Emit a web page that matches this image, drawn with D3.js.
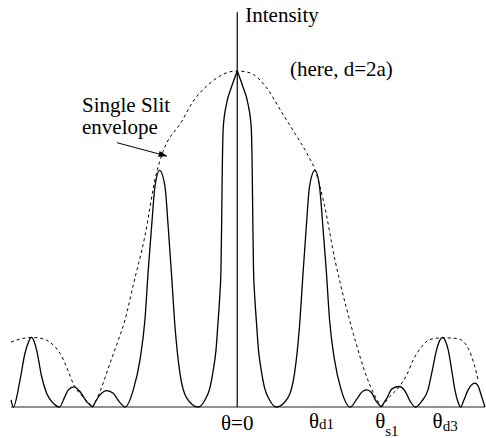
<!DOCTYPE html>
<meta charset="utf-8">
<script src="https://cdn.jsdelivr.net/npm/d3@7"></script>
<style>
  body { margin: 0; background: #fff; }
</style>
<div id="vis"></div>
<script>
// double slit pattern, theta in units of the first single-slit zero
const theta = [-1.556, -1.540, -1.494, -1.460, -1.436, -1.415, -1.395, -1.380, -1.345, -1.311,
  -1.265, -1.224, -1.185, -1.162, -1.123, -1.082, -1.036, -0.994, -0.944, -0.898,
  -0.853, -0.812, -0.772, -0.715, -0.669, -0.635, -0.612, -0.589, -0.566, -0.534,
  -0.497, -0.475, -0.451, -0.428, -0.394, -0.348, -0.270, -0.222, -0.188, -0.165,
  -0.146, -0.131, -0.120, -0.112, -0.107, -0.103, -0.096, -0.073, -0.039, 0,
  0.039, 0.073, 0.096, 0.103, 0.107, 0.112, 0.120, 0.131, 0.146, 0.165,
  0.188, 0.222, 0.270, 0.348, 0.394, 0.428, 0.451, 0.475, 0.497, 0.534,
  0.566, 0.589, 0.612, 0.635, 0.669, 0.715, 0.777, 0.823, 0.858, 0.890,
  0.923, 0.954, 0.990, 1.030, 1.064, 1.114, 1.153, 1.188, 1.226, 1.270,
  1.312, 1.339, 1.371, 1.394, 1.413, 1.432, 1.451, 1.477, 1.497, 1.518,
  1.536, 1.559, 1.588, 1.610, 1.635, 1.659, 1.681, 1.704];
const intensity = [0.021, 0, 0.080, 0.160, 0.193, 0.207, 0.193, 0.170, 0.090, 0.041,
  0.011, 0, 0.031, 0.051, 0.060, 0.046, 0.016, 0, 0.036, 0.049,
  0.041, 0.016, 0, 0.051, 0.140, 0.259, 0.408, 0.537, 0.656, 0.704,
  0.656, 0.537, 0.388, 0.239, 0.100, 0.027, 0, 0.021, 0.057, 0.110,
  0.170, 0.259, 0.330, 0.408, 0.557, 0.705, 0.833, 0.904, 0.953, 1,
  0.953, 0.904, 0.833, 0.705, 0.557, 0.408, 0.330, 0.259, 0.170, 0.110,
  0.057, 0.021, 0, 0.027, 0.100, 0.239, 0.388, 0.537, 0.656, 0.704,
  0.656, 0.537, 0.408, 0.259, 0.140, 0.051, 0, 0.024, 0.045, 0.051,
  0.043, 0.018, 0, 0.027, 0.054, 0.061, 0.048, 0.018, 0, 0.018,
  0.051, 0.104, 0.170, 0.199, 0.207, 0.196, 0.170, 0.104, 0.051, 0.015,
  0, 0.021, 0.051, 0.065, 0.071, 0.060, 0.031, 0];
// points where the solid curve has a corner
const cusps = [-0.994, 0, 0.990];

// single slit envelope
const envTheta = [-1.556, -1.494, -1.415, -1.357, -1.311, -1.267, -1.219, -1.171, -1.123, -1.061,
  -0.994, -0.944, -0.875, -0.818, -0.772, -0.717, -0.635, -0.559, -0.510,
  -0.382, -0.303, -0.210, -0.119, -0.057, 0, 0.053, 0.110, 0.202, 0.305,
  0.400, 0.480, 0.540, 0.600, 0.672, 0.706, 0.798, 0.890, 0.940, 0.993,
  1.050, 1.119, 1.165, 1.210, 1.268, 1.325, 1.417, 1.509, 1.566, 1.612,
  1.646, 1.657];
const envIntensity = [0.193, 0.202, 0.207, 0.205, 0.199, 0.185, 0.160, 0.116, 0.065, 0.030,
  0, 0.046, 0.130, 0.199, 0.259, 0.360, 0.509, 0.690, 0.760,
  0.850, 0.910, 0.955, 0.985, 0.997, 1, 0.998, 0.990, 0.950, 0.878,
  0.812, 0.754, 0.700, 0.600, 0.438, 0.373, 0.219, 0.090, 0.039, 0,
  0.031, 0.063, 0.095, 0.140, 0.179, 0.201, 0.206, 0.204, 0.190, 0.150,
  0.100, 0.080];

const tickTheta = [0, 0.534, 0.990, 1.385];
const tickMain = ["θ=0", "θ", "θ", "θ"];
const tickSub = ["", "d1", "s1", "d3"];

const width = 486, height = 438;
const axisTop = 1.175;
const serif = "'Liberation Serif', 'Times New Roman', Times, 'DejaVu Serif', serif";

const x = d3.scaleLinear().domain(d3.extent(theta)).range([11, 485]);
const y = d3.scaleLinear().domain([0, 1]).range([407, 71]);

const svg = d3.select("#vis").append("svg")
  .attr("width", width).attr("height", height)
  .attr("font-family", serif);

// split a series into pieces, sharing the break points
function split(xs, ys, isBreak) {
  const parts = [[]];
  xs.forEach((t, i) => {
    const p = [t, ys[i]];
    parts[parts.length - 1].push(p);
    if (i > 0 && i < xs.length - 1 && isBreak(t, ys[i])) parts.push([p]);
  });
  return parts;
}

const line = d3.line()
  .x(d => x(d[0]))
  .y(d => y(d[1]))
  .curve(d3.curveMonotoneX);

// axes
svg.append("line")
  .attr("x1", x.range()[0]).attr("x2", x.range()[1])
  .attr("y1", y(0)).attr("y2", y(0))
  .attr("stroke", "#222").attr("stroke-width", 1.2);
svg.append("line")
  .attr("x1", x(0)).attr("x2", x(0))
  .attr("y1", y(0)).attr("y2", y(axisTop))
  .attr("stroke", "#000").attr("stroke-width", 1.2);

// envelope
svg.append("g").selectAll("path")
  .data(split(envTheta, envIntensity, (t, v) => v === 0))
  .enter().append("path")
  .attr("d", line)
  .attr("fill", "none")
  .attr("stroke", "#000")
  .attr("stroke-width", 1)
  .attr("stroke-dasharray", "3,3");

// pattern
svg.append("g").selectAll("path")
  .data(split(theta, intensity, t => cusps.includes(t)))
  .enter().append("path")
  .attr("d", line)
  .attr("fill", "none")
  .attr("stroke", "#000")
  .attr("stroke-width", 1.3);

// labels
svg.append("text").attr("x", x(0) + 8).attr("y", 21.5)
  .attr("font-size", 21).text("Intensity");
svg.append("text").attr("x", 290).attr("y", 76)
  .attr("font-size", 21).text("(here, d=2a)");
svg.append("text").attr("x", 82).attr("y", 111.5)
  .attr("font-size", 21).text("Single Slit");
svg.append("text").attr("x", 82).attr("y", 133.5)
  .attr("font-size", 21).text("envelope");

svg.append("defs").append("marker")
  .attr("id", "head")
  .attr("markerUnits", "userSpaceOnUse")
  .attr("markerWidth", 9).attr("markerHeight", 6)
  .attr("refX", 8).attr("refY", 3)
  .attr("orient", "auto")
  .append("path").attr("d", "M0,0L9,3L0,6Z").attr("fill", "#000");

svg.append("line")
  .attr("x1", 117).attr("y1", 142.7)
  .attr("x2", x(-0.486)).attr("y2", y(0.747))
  .attr("stroke", "#000").attr("stroke-width", 1)
  .attr("marker-end", "url(#head)");

// theta labels under the axis
const subShift = { "": 0, "d1": 1, "s1": 8, "d3": 3 };
const ticks = svg.append("g").selectAll("text")
  .data(tickTheta)
  .enter().append("text")
  .attr("font-size", 21)
  .attr("y", (d, i) => i === 0 ? 430 : 428)
  .attr("x", (d, i) => i === 0 ? x(d) : x(d) - 6)
  .attr("text-anchor", (d, i) => i === 0 ? "middle" : "start");
ticks.append("tspan").text((d, i) => tickMain[i]);
ticks.append("tspan")
  .attr("font-size", 15)
  .attr("dy", (d, i) => subShift[tickSub[i]])
  .text((d, i) => tickSub[i]);
</script>
